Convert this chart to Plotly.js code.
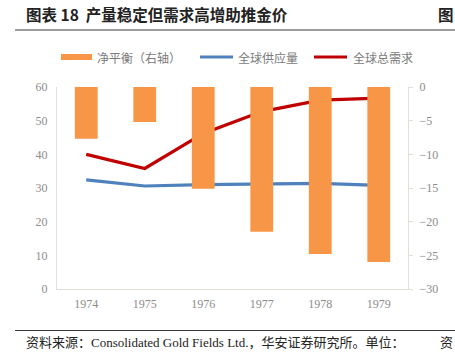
<!DOCTYPE html>
<html><head><meta charset="utf-8">
<script src="https://cdn.plot.ly/plotly-3.0.1.min.js"></script>
<style>html,body{margin:0;padding:0;background:#fff;}#c{width:455px;height:362px;}</style>
</head><body><div id="c"></div>
<script>
const years = ['1974','1975','1976','1977','1978','1979'];
const netBalance = [-7.7, -5.2, -15.1, -21.5, -24.8, -26.0];
const supply = [32.4, 30.6, 31.0, 31.2, 31.4, 30.8];
const demand = [40.0, 35.8, 46.2, 52.7, 56.1, 56.7];
const leftTicks = [0,10,20,30,40,50,60];
const rightTicks = [-30,-25,-20,-15,-10,-5,0];
const seriesNames = ['净平衡（右轴）','全球供应量','全球总需求'];
const seriesColors = ['#F79646','#4F81BD','#C00000'];

const tickFont = {family:'Liberation Serif, DejaVu Serif, serif', size:12, color:'#8c8c8c'};
const cjk = 'Noto Sans CJK SC, sans-serif';

const traces = [
  {type:'bar', x:years, y:netBalance, yaxis:'y2', name:seriesNames[0],
   marker:{color:seriesColors[0]}, width:0.39},
  {type:'scatter', mode:'lines', x:years, y:supply, name:seriesNames[1],
   line:{color:seriesColors[1], width:3.2}},
  {type:'scatter', mode:'lines', x:years, y:demand, name:seriesNames[2],
   line:{color:seriesColors[2], width:3.2}}
];

const L = 57, R = 408, T = 87, B = 289;
const px = x => (x - L)/(R - L);
const py = y => (B - y)/(B - T);

// custom legend (symbol x-start, text x-start)
const legX = [[61,95],[200,236],[314,351]];
const legY = 57;
const legShapes = [
  {type:'rect', xref:'paper', yref:'paper', x0:px(legX[0][0]), x1:px(legX[0][0]+31), y0:py(legY-3), y1:py(legY+3),
   fillcolor:seriesColors[0], line:{width:0}},
  {type:'line', xref:'paper', yref:'paper', x0:px(legX[1][0]), x1:px(legX[1][0]+33), y0:py(legY), y1:py(legY),
   line:{color:seriesColors[1], width:3.2}},
  {type:'line', xref:'paper', yref:'paper', x0:px(legX[2][0]), x1:px(legX[2][0]+33), y0:py(legY), y1:py(legY),
   line:{color:seriesColors[2], width:3.2}}
];
const legAnn = seriesNames.map((n,i)=>({xref:'paper', yref:'paper', x:px(legX[i][1]), y:py(legY), xanchor:'left', yanchor:'middle',
  showarrow:false, text:n, font:{family:cjk, size:12, color:'#7a7a7a'}}));

const layout = {
  width:455, height:362,
  margin:{l:L, r:455-R, t:T, b:362-B, pad:0},
  paper_bgcolor:'#fff', plot_bgcolor:'#fff',
  showlegend:false,
  xaxis:{type:'category', showgrid:false, zeroline:false, showline:true, linecolor:'#e3ded6', linewidth:1,
         ticks:'', tickfont:tickFont, ticklabelstandoff:4},
  yaxis:{range:[0,60], tickvals:leftTicks, showgrid:false, zeroline:false, showline:true,
         linecolor:'#e3ded6', linewidth:1, ticks:'', tickfont:tickFont, ticklabelstandoff:6},
  yaxis2:{range:[-30,0], tickvals:rightTicks, overlaying:'y', side:'right', showgrid:false, zeroline:false,
          showline:true, linecolor:'#e3ded6', linewidth:1, ticks:'outside', ticklen:4, tickcolor:'#e3ded6',
          tickfont:tickFont, ticklabelstandoff:4},
  bargap:0.6,
  shapes:[
    {type:'line', xref:'paper', yref:'paper', x0:px(15), x1:px(455), y0:py(30), y1:py(30),
     line:{color:'#3a3a3a', width:1.2}},
    {type:'line', xref:'paper', yref:'paper', x0:px(15), x1:px(455), y0:py(330.5), y1:py(330.5),
     line:{color:'#3a3a3a', width:1.2}}
  ].concat(legShapes),
  annotations:[
    {xref:'paper', yref:'paper', x:px(24), y:py(14), xanchor:'left', yanchor:'middle', showarrow:false,
     text:'<b>图表 18  产量稳定但需求高增助推金价</b>', font:{family:cjk, size:15.5, color:'#222'}},
    {xref:'paper', yref:'paper', x:px(436), y:py(14), xanchor:'left', yanchor:'middle', showarrow:false,
     text:'<b>图</b>', font:{family:cjk, size:15.5, color:'#222'}},
    {xref:'paper', yref:'paper', x:px(24), y:py(341), xanchor:'left', yanchor:'middle', showarrow:false,
     text:'资料来源：<span style="font-family:Liberation Serif">Consolidated Gold Fields Ltd.</span>，华安证券研究所。单位：',
     font:{family:cjk, size:13, color:'#222'}},
    {xref:'paper', yref:'paper', x:px(438), y:py(341), xanchor:'left', yanchor:'middle', showarrow:false,
     text:'资', font:{family:cjk, size:13, color:'#222'}}
  ].concat(legAnn)
};

Plotly.newPlot('c', traces, layout, {displayModeBar:false, staticPlot:true});
</script></body></html>
